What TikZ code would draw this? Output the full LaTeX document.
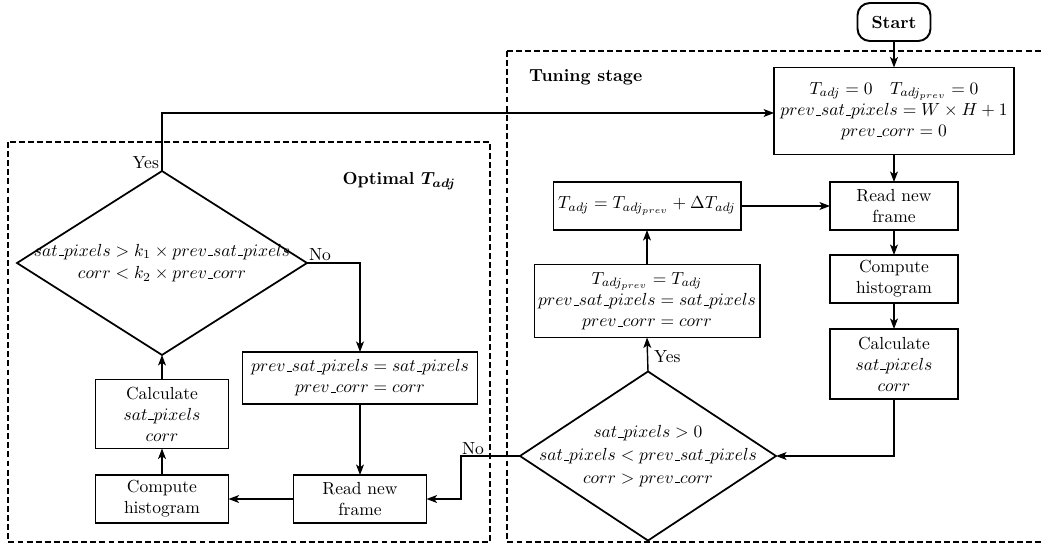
\documentclass[tikz,border=0pt]{standalone}
\usepackage{amsmath}
\usetikzlibrary{arrows.meta,shapes.geometric,calc}
\newcommand\usc{\kern.06em\vbox{\hrule width.3em}}
\begin{document}
\begin{tikzpicture}[x=0.5714pt,y=-0.5714pt,
  box/.style={draw,line width=1.1pt,align=center,inner sep=2pt,outer sep=0pt},
  dia/.style={draw,shape=diamond,line width=1pt,inner sep=0pt,outer sep=0pt},
  txt/.style={align=center,inner sep=0pt},
  conn/.style={line width=0.8pt,-{Stealth[length=6pt,width=4.5pt,inset=1.5pt]}},
  region/.style={draw,line width=0.7pt,dash pattern=on 3.4pt off 1.8pt},
  lbl/.style={inner sep=1pt}]
\useasboundingbox (0,0) rectangle (1043,543);
% dashed regions
\draw[region] (507,51) rectangle (1070,542);
\draw[region] (8,142) rectangle (490,542);
\node[anchor=west,font=\bfseries] (tslbl) at (523,77) {Tuning stage};
\node[anchor=east,font=\bfseries\boldmath] (oplbl) at (462,181) {Optimal $T_{adj}$};
% right column
\node[box,rounded corners=7pt,minimum width=41.7pt,minimum height=21.7pt,font=\bfseries] (start) at (894,22) {Start};
\node[box,minimum width=137pt,minimum height=49.7pt] (init) at (894,111)
  {$T_{adj}=0\quad T_{adj_{prev}}=0$\\ $prev\usc sat\usc pixels=W\times H+1$\\ $prev\usc corr=0$};
\node[box,minimum width=73.1pt,minimum height=27.4pt] (rnf) at (894,206) {Read new\\frame};
\node[box,minimum width=73.1pt,minimum height=27.4pt] (ch) at (894,279) {Compute\\histogram};
\node[box,minimum width=73.1pt,minimum height=40pt] (calc) at (894,364) {Calculate\\$sat\usc pixels$\\$corr$};
\node[dia,minimum width=146.3pt,minimum height=96.6pt] (d2) at (648,456) {};
\node[txt] (d2t) at (648,456) {$sat\usc pixels>0$\\[1pt] $sat\usc pixels<prev\usc sat\usc pixels$\\[1pt] $corr>prev\usc corr$};
\node[box,minimum width=128.6pt,minimum height=41.7pt] (tprev) at (647,301)
  {$T_{adj_{prev}}=T_{adj}$\\ $prev\usc sat\usc pixels=sat\usc pixels$\\ $prev\usc corr=corr$};
\node[box,minimum width=106.9pt,minimum height=27.4pt] (tadj) at (647,206) {$T_{adj}=T_{adj_{prev}}+\Delta T_{adj}$};
% left column
\node[dia,minimum width=165.7pt,minimum height=105.1pt] (d1) at (162,263) {};
\node[txt] (d1t) at (162,263) {$sat\usc pixels>k_1\times prev\usc sat\usc pixels$\\[1pt] $corr<k_2\times prev\usc corr$};
\node[box,minimum width=134.3pt,minimum height=29.7pt] (prev2) at (360,378) {$prev\usc sat\usc pixels=sat\usc pixels$\\ $prev\usc corr=corr$};
\node[box,minimum width=76pt,minimum height=27.4pt] (rnf2) at (360,499) {Read new\\frame};
\node[box,minimum width=76pt,minimum height=27.4pt] (ch2) at (162,499) {Compute\\histogram};
\node[box,minimum width=76pt,minimum height=39.4pt] (calc2) at (162,414) {Calculate\\$sat\usc pixels$\\$corr$};
% connectors right
\draw[conn] (start) -- (init);
\draw[conn] (init) -- (rnf);
\draw[conn] (rnf) -- (ch);
\draw[conn] (ch) -- (calc);
\draw[conn] (calc.south) |- (d2.east);
\draw[conn] (d2.north) -- (tprev.south);
\node[lbl,anchor=west] (yes2) at ($(d2.north)+(4,-15)$) {Yes};
\draw[conn] (tprev) -- (tadj);
\draw[conn] (tadj) -- (rnf);
\coordinate (nb) at (461,456);
\draw[conn] (d2.west) -- (nb) |- (rnf2.east);
\node[lbl,anchor=south] (no2) at (473,457) {No};
% connectors left
\draw[conn] (rnf2) -- (ch2);
\draw[conn] (ch2) -- (calc2);
\draw[conn] (calc2) -- (d1.south);
\draw[conn] (d1.east) -| (prev2.north);
\node[lbl,anchor=south west] (no1) at (d1.east) {No};
\draw[conn] (prev2) -- (rnf2);
\coordinate (ytop) at (162,113);
\draw[conn] (d1.north) -- (ytop) -- (ytop -| init.west);
\node[lbl,anchor=south east] (yes1) at ($(d1.north)+(-1,0)$) {Yes};
\end{tikzpicture}
\end{document}
